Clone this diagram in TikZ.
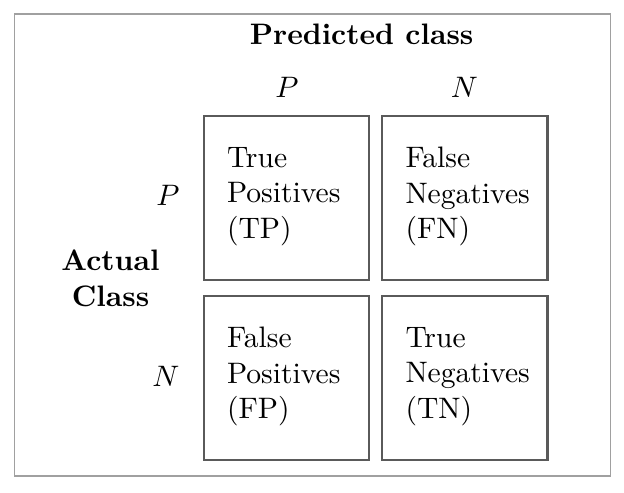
\documentclass[tikz,border=0pt]{standalone}
\usetikzlibrary{calc}
\definecolor{framegray}{HTML}{A0A0A0}
\definecolor{cellgray}{HTML}{5A5A5A}
\begin{document}
\begin{tikzpicture}[x=0.3378pt,y=-0.3378pt,
  cellbox/.style={draw=cellgray, line width=0.68pt, minimum width=55.9pt, minimum height=55.6pt, inner sep=0pt, outer sep=0pt},
  celltext/.style={anchor=north west, align=left, inner sep=0pt, outer sep=0pt},
  heading/.style={font=\bfseries, inner sep=0pt},
  classlabel/.style={inner sep=0pt}]
\useasboundingbox (0,0) rectangle (624,492);
\draw[draw=framegray, line width=0.45pt] (14.7,14) rectangle (610.7,476);
% header
\node[heading, anchor=base] (pred) at (361.7,44.3) {Predicted class};
\node[classlabel, anchor=base] (colP) at (287,97.3) {$P$};
\node[classlabel, anchor=base] (colN) at (464.5,97.3) {$N$};
% cells
\node[cellbox] (tp) at (286.25,198) {};
\node[cellbox] (fn) at (464.75,198) {};
\node[cellbox] (fp) at (286.25,378) {};
\node[cellbox] (tn) at (464.75,378) {};
\node[celltext] (tptext) at ($(tp.north west)+(23.5,31.5)$) {True\\Positives\\(TP)};
\node[celltext] (fntext) at ($(fn.north west)+(23.5,31.5)$) {False\\Negatives\\(FN)};
\node[celltext] (fptext) at ($(fp.north west)+(23.5,31.5)$) {False\\Positives\\(FP)};
\node[celltext] (tntext) at ($(tn.north west)+(23.5,31.5)$) {True\\Negatives\\(TN)};
% row labels
\node[classlabel, anchor=base east] (rowP) at (180,205) {$P$};
\node[classlabel, anchor=base east] (rowN) at (180,386) {$N$};
\node[heading, anchor=north, align=center] (actual) at (110.5,249.5) {Actual\\Class};
\end{tikzpicture}
\end{document}
